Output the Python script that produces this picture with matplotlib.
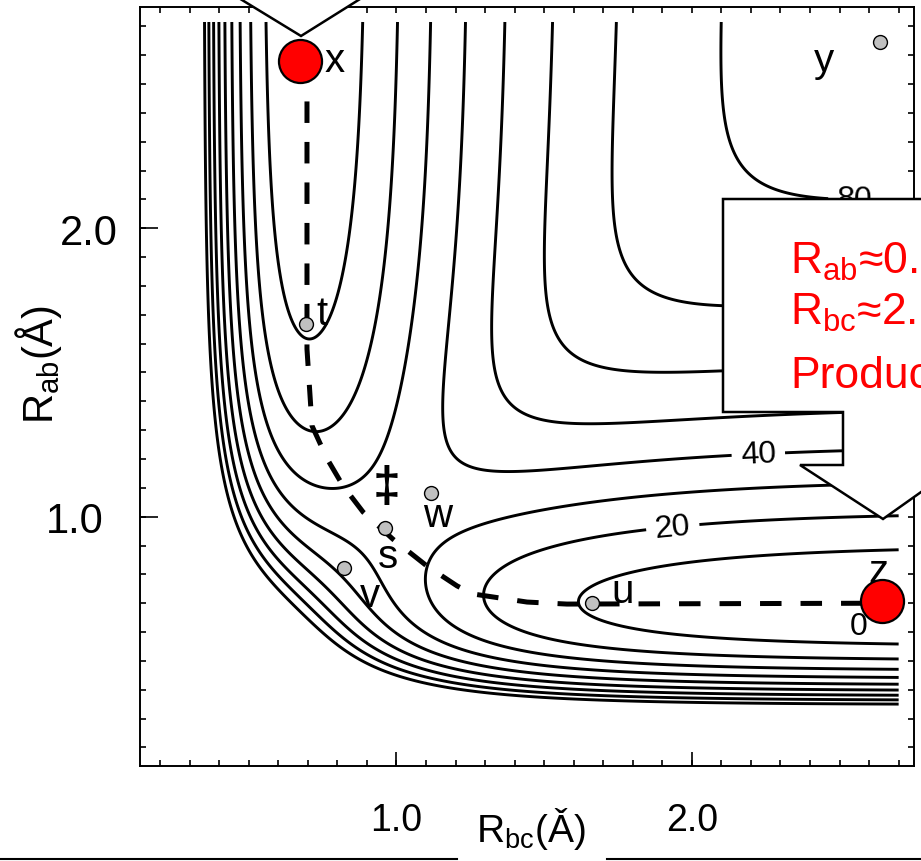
import numpy as np
import matplotlib.pyplot as plt
from matplotlib.patches import Polygon
from matplotlib.lines import Line2D
from matplotlib.transforms import ScaledTranslation

plt.rcParams['font.family'] = ['Liberation Sans', 'DejaVu Sans']
plt.rcParams['mathtext.fontset'] = 'custom'
plt.rcParams['mathtext.rm'] = 'Liberation Sans'

# LEPS surface for collinear A + BC -> AB + C
well_depth = 90.0      # D_e
morse_beta = 2.0       # 1/A
bond_length = 0.695    # A
sato_k = -0.15
rbc_range = (0.35, 2.70)
rab_range = (0.35, 2.715)

contour_levels = [10, 20, 30, 40, 50, 60, 70, 80, 90]
labelled_levels = [20, 40, 80]

# minimum energy path, (R_bc, R_ab)
path_rbc = [0.697, 0.697, 0.697, 0.714, 0.765, 0.819, 0.887, 0.988, 1.103,
            1.205, 1.259, 1.442, 1.577, 2.650]
path_rab = [2.580, 1.598, 1.581, 1.315, 1.201, 1.107, 1.016, 0.922, 0.829,
            0.760, 0.732, 0.704, 0.697, 0.700]

# marked geometries
point_names = ['t', 's', 'u', 'v', 'w', 'y']
point_rbc = [0.693, 0.962, 1.662, 0.824, 1.118, 2.637]
point_rab = [1.668, 0.962, 0.699, 0.823, 1.083, 2.645]

end_names = ['x', 'z']
end_rbc = [0.675, 2.645]
end_rab = [2.580, 0.709]


def leps(rab, rbc):
    rac = rab + rbc
    pre = well_depth / (4 * (1 + sato_k))

    def qj(r):
        e1 = np.exp(-morse_beta * (r - bond_length))
        e2 = e1 ** 2
        q = pre * ((3 + sato_k) * e2 - (2 + 6 * sato_k) * e1)
        j = pre * ((1 + 3 * sato_k) * e2 - (6 + 2 * sato_k) * e1)
        return q, j

    qab, jab = qj(rab)
    qbc, jbc = qj(rbc)
    qac, jac = qj(rac)
    v = qab + qbc + qac - np.sqrt(0.5 * ((jab - jbc) ** 2 + (jbc - jac) ** 2 + (jac - jab) ** 2))
    return v + well_depth


rbc = np.linspace(*rbc_range, 500)
rab = np.linspace(*rab_range, 500)
RBC, RAB = np.meshgrid(rbc, rab)
V = leps(RAB, RBC)

W, H = 921, 862
fig = plt.figure(figsize=(W / 100, H / 100), dpi=100)
ax = fig.add_axes([140 / W, 95 / H, 774 / W, 759 / H])


def fig_xy(px, py):
    return px / W, 1 - py / H


plain_levels = [lv for lv in contour_levels if lv not in labelled_levels]
ax.contour(RBC, RAB, V, levels=plain_levels, colors='black', linewidths=2.1)
cs = ax.contour(RBC, RAB, V, levels=labelled_levels, colors='black', linewidths=2.1)
ax.clabel(cs, inline=True, fmt='%d', fontsize=23, inline_spacing=12,
          manual=[(2.552, 2.119), (2.224, 1.238), (1.936, 0.957)])

ax.plot(path_rbc, path_rab, color='black', lw=3.6, linestyle=(0, (4.3, 3.8)), zorder=3)

ax.plot(point_rbc, point_rab, 'o', ms=10, mfc='#c0c0c0', mec='black', mew=1.0, zorder=4)
ax.plot(end_rbc, end_rab, 'o', ms=31, mfc='#ff0000', mec='black', mew=1.6, zorder=5)

letter_kw = dict(fontsize=29, ha='center', va='baseline', zorder=6)
ax.text(0.792, 2.545, 'x', **letter_kw)
ax.text(2.447, 2.545, 'y', **letter_kw)
ax.text(0.748, 1.668, 't', **letter_kw)
ax.text(0.971, 0.826, 's', **letter_kw)
ax.text(1.140, 0.968, 'w', **letter_kw)
ax.text(0.910, 0.690, 'v', **letter_kw)
ax.text(1.767, 0.704, 'u', **letter_kw)
ax.text(2.630, 0.774, 'z', fontsize=29, ha='center', va='baseline', zorder=4)
ax.text(2.566, 0.593, '0', fontsize=23, ha='center', va='baseline')
ax.text(0.968, 1.103, '\u2021', fontsize=36, fontweight='bold', ha='center', va='center')

ax.set_xlim(0.1317, 2.752)
ax.set_ylim(0.1356, 2.767)
ax.set_xticks([1.0, 2.0], ['1.0', '2.0'])
ax.set_yticks([1.0, 2.0], ['1.0', '2.0'])
ax.set_xticks(np.round(np.arange(0.2, 2.75, 0.1), 1), minor=True)
ax.set_yticks(np.round(np.arange(0.2, 2.75, 0.1), 1), minor=True)
ax.xaxis.remove_overlapping_locs = False
ax.yaxis.remove_overlapping_locs = False
ax.tick_params(which='both', direction='in', width=1.2, colors='black')
ax.tick_params(which='major', top=False, right=False)
ax.tick_params(which='minor', top=True, right=True, length=4.5)
ax.tick_params(axis='x', which='major', length=10, pad=26, labelsize=27)
ax.tick_params(axis='y', which='major', length=13, pad=16, labelsize=30)
for sp in ax.spines.values():
    sp.set_linewidth(1.4)

# nudge the lower y tick label a little further out
low_label = ax.yaxis.get_major_ticks()[0].label1
low_label.set_transform(low_label.get_transform()
                        + ScaledTranslation(-0.14, 0, fig.dpi_scale_trans))

fig.text(*fig_xy(38, 365), r'R$_\mathrm{ab}$(Å)', fontsize=30, rotation=90,
         ha='center', va='center')
fig.text(*fig_xy(531, 842), r'R$_\mathrm{bc}$(Ǎ)', fontsize=28, ha='center', va='baseline')

# rule along the bottom, broken under the axis title
for x0, x1 in [(0, 457), (607, W)]:
    fig.add_artist(Line2D([x0 / W, x1 / W], [1 - 860 / H] * 2, color='black', lw=1.5))

# callouts
top_callout = [(224, -10), (301, 37), (376, -10)]
fig.add_artist(Polygon([fig_xy(*p) for p in top_callout], closed=True,
                       facecolor='white', edgecolor='black', lw=1.8, zorder=2))
right_callout = [(723, 200), (1010, 200), (1010, 430), (883, 520), (800, 466),
                 (843, 466), (843, 413), (723, 413)]
fig.add_artist(Polygon([fig_xy(*p) for p in right_callout], closed=True,
                       facecolor='white', edgecolor='black', lw=1.8, zorder=2))

callout_kw = dict(fontsize=32, color='#ff0000', ha='left', va='baseline', zorder=3)
fig.text(*fig_xy(790, 274), r'R$_\mathrm{ab}$≈0.7', **callout_kw)
fig.text(*fig_xy(790, 325), r'R$_\mathrm{bc}$≈2.7', **callout_kw)
fig.text(*fig_xy(790, 388), 'Product', **callout_kw)

fig.savefig('out.png', dpi=100)
